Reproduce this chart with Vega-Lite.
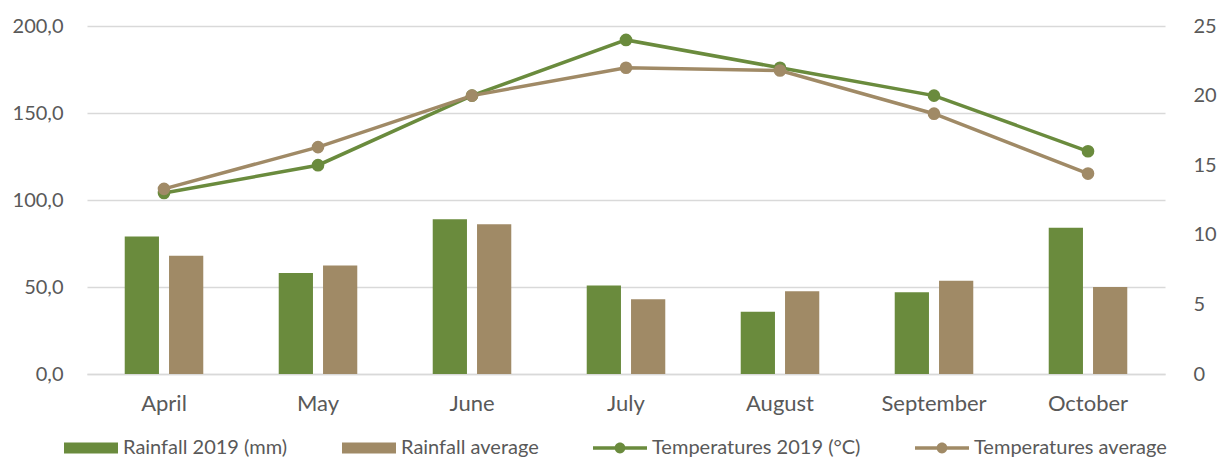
{
  "$schema": "https://vega.github.io/schema/vega-lite/v6.json",
  "autosize": {"type": "none"},
  "width": 1078,
  "height": 348,
  "padding": {"left": 87, "top": 26, "right": 55, "bottom": 83},
  "background": "white",
  "config": {
    "view": {"stroke": null},
    "font": "Lato",
    "axis": {"labelFont": "Lato", "labelColor": "#595959", "labelFontSize": 20, "ticks": false, "domain": false, "gridColor": "#d9d9d9", "gridWidth": 1.3, "title": null}
  },
  "datasets": {
    "rain": [
      {"month": "April", "series": "Rainfall 2019 (mm)", "value": 79.0},
      {"month": "April", "series": "Rainfall average", "value": 68.0},
      {"month": "May", "series": "Rainfall 2019 (mm)", "value": 58.0},
      {"month": "May", "series": "Rainfall average", "value": 62.3},
      {"month": "June", "series": "Rainfall 2019 (mm)", "value": 89.0},
      {"month": "June", "series": "Rainfall average", "value": 86.0},
      {"month": "July", "series": "Rainfall 2019 (mm)", "value": 50.8},
      {"month": "July", "series": "Rainfall average", "value": 43.0},
      {"month": "August", "series": "Rainfall 2019 (mm)", "value": 35.8},
      {"month": "August", "series": "Rainfall average", "value": 47.5},
      {"month": "September", "series": "Rainfall 2019 (mm)", "value": 47.0},
      {"month": "September", "series": "Rainfall average", "value": 53.6},
      {"month": "October", "series": "Rainfall 2019 (mm)", "value": 84.0},
      {"month": "October", "series": "Rainfall average", "value": 50.0}
    ],
    "temp": [
      {"month": "April", "series": "Temperatures 2019 (°C)", "value": 13.0},
      {"month": "May", "series": "Temperatures 2019 (°C)", "value": 15.0},
      {"month": "June", "series": "Temperatures 2019 (°C)", "value": 20.0},
      {"month": "July", "series": "Temperatures 2019 (°C)", "value": 24.0},
      {"month": "August", "series": "Temperatures 2019 (°C)", "value": 22.0},
      {"month": "September", "series": "Temperatures 2019 (°C)", "value": 20.0},
      {"month": "October", "series": "Temperatures 2019 (°C)", "value": 16.0},
      {"month": "April", "series": "Temperatures average", "value": 13.3},
      {"month": "May", "series": "Temperatures average", "value": 16.3},
      {"month": "June", "series": "Temperatures average", "value": 20.0},
      {"month": "July", "series": "Temperatures average", "value": 22.0},
      {"month": "August", "series": "Temperatures average", "value": 21.8},
      {"month": "September", "series": "Temperatures average", "value": 18.7},
      {"month": "October", "series": "Temperatures average", "value": 14.4}
    ]
  },
  "encoding": {
    "x": {
      "field": "month", "type": "nominal", "sort": null,
      "scale": {"domain": ["April", "May", "June", "July", "August", "September", "October"], "paddingInner": 0.49, "paddingOuter": 0.245},
      "axis": {"labelAngle": 0, "labelPadding": 19, "labelFontSize": 22, "domain": true, "domainColor": "#d9d9d9", "domainWidth": 1.3}
    },
    "color": {
      "field": "series", "type": "nominal",
      "scale": {
        "domain": ["Rainfall 2019 (mm)", "Rainfall average", "Temperatures 2019 (°C)", "Temperatures average"],
        "range": ["#6a8b3d", "#a08a66", "#6a8b3d", "#a08a66"]
      },
      "legend": {
        "orient": "none", "legendX": -23, "legendY": 395, "direction": "horizontal", "title": null,
        "symbolSize": 2916, "symbolStrokeWidth": 0, "labelFontSize": 20, "labelColor": "#595959", "labelFont": "Lato",
        "labelLimit": 0, "columnPadding": 54, "labelOffset": 5,
        "encode": {
          "symbols": {
            "update": {
              "shape": {"signal": "indexof(datum.label, 'Rainfall') == 0 ? 'M-1,-0.2H1V0.2H-1Z' : 'M-1,-0.065H1V0.065H-1Z M-0.2,0A0.2,0.2 0 1,1 0.2,0A0.2,0.2 0 1,1 -0.2,0Z'"},
              "fill": {"scale": "color", "field": "value"},
              "fillOpacity": {"value": 1},
              "opacity": {"value": 1},
              "stroke": {"value": "transparent"},
              "strokeWidth": {"value": 0}
            }
          }
        }
      }
    }
  },
  "layer": [
    {
      "data": {"name": "rain"},
      "mark": {"type": "bar"},
      "encoding": {
        "xOffset": {"field": "series", "type": "nominal", "scale": {"paddingInner": 0.227, "paddingOuter": 0}},
        "y": {
          "field": "value", "type": "quantitative",
          "scale": {"domain": [0, 200], "nice": false},
          "axis": {"values": [0, 50, 100, 150, 200], "labelPadding": 24, "labelExpr": "replace(format(datum.value, '.1f'), '.', ',')", "grid": true}
        }
      }
    },
    {
      "data": {"name": "temp"},
      "mark": {"type": "line", "strokeWidth": 3.5, "point": {"filled": true, "size": 160, "opacity": 1}},
      "encoding": {
        "y": {
          "field": "value", "type": "quantitative",
          "scale": {"domain": [0, 25], "nice": false},
          "axis": {"orient": "right", "values": [0, 5, 10, 15, 20, 25], "labelPadding": 28, "grid": false}
        }
      }
    }
  ],
  "resolve": {"scale": {"y": "independent"}}
}
